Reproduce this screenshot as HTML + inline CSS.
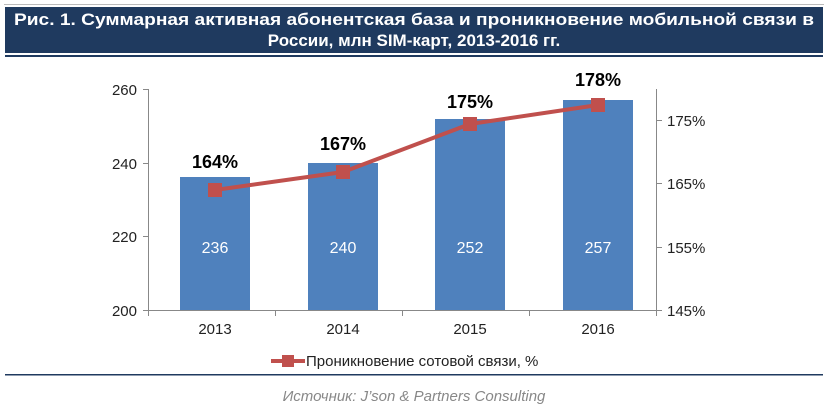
<!DOCTYPE html>
<html><head><meta charset="utf-8"><style>
body{margin:0;width:828px;height:414px;background:#fff;overflow:hidden;font-family:"Liberation Sans","DejaVu Sans",sans-serif}
</style></head><body>
<svg width="828" height="414" xmlns="http://www.w3.org/2000/svg" font-family="Liberation Sans, DejaVu Sans, sans-serif">
<rect x="4" y="4" width="820" height="1" fill="#bbb"/>
<rect x="5" y="7" width="818" height="46" fill="#1f3a5f"/>
<rect x="5" y="55" width="818" height="2" fill="#1f3a5f"/>
<text x="414" y="25" fill="#fff" font-size="17" font-weight="bold" text-anchor="middle" textLength="800" lengthAdjust="spacingAndGlyphs">Рис. 1. Суммарная активная абонентская база и проникновение мобильной связи в</text>
<text x="414" y="46" fill="#fff" font-size="17" font-weight="bold" text-anchor="middle">России, млн SIM-карт, 2013-2016 гг.</text>
<g stroke="#888" stroke-width="1">
<line x1="148.5" y1="89" x2="148.5" y2="310"/>
<line x1="143" y1="89.5" x2="148" y2="89.5"/><line x1="143" y1="163.5" x2="148" y2="163.5"/><line x1="143" y1="236.5" x2="148" y2="236.5"/>
<line x1="143" y1="310.5" x2="662" y2="310.5"/>
<line x1="656.5" y1="89" x2="656.5" y2="310"/>
<line x1="656" y1="120.5" x2="662" y2="120.5"/><line x1="656" y1="183.5" x2="662" y2="183.5"/><line x1="656" y1="247.5" x2="662" y2="247.5"/>
<line x1="275.5" y1="310" x2="275.5" y2="316"/><line x1="402.5" y1="310" x2="402.5" y2="316"/><line x1="529.5" y1="310" x2="529.5" y2="316"/><line x1="148.5" y1="310" x2="148.5" y2="316"/><line x1="656.5" y1="310" x2="656.5" y2="316"/>
</g>
<g font-size="15" fill="#222">
<text x="137" y="95" text-anchor="end">260</text><text x="137" y="169" text-anchor="end">240</text><text x="137" y="242" text-anchor="end">220</text><text x="137" y="316" text-anchor="end">200</text>
<text x="667" y="126">175%</text><text x="667" y="189">165%</text><text x="667" y="253">155%</text><text x="667" y="316">145%</text>
<text x="215" y="334" text-anchor="middle">2013</text><text x="343" y="334" text-anchor="middle">2014</text><text x="470" y="334" text-anchor="middle">2015</text><text x="598" y="334" text-anchor="middle">2016</text>
</g>
<g fill="#4f81bd">
<rect x="180" y="177" width="70" height="133"/><rect x="308" y="163" width="70" height="147"/><rect x="435" y="119" width="70" height="191"/><rect x="563" y="100" width="70" height="210"/>
</g>
<g font-size="16" fill="#fff" text-anchor="middle">
<text x="215" y="253">236</text><text x="343" y="253">240</text><text x="470" y="253">252</text><text x="598" y="253">257</text>
</g>
<polyline points="215,190 343,172 470,124 598,105" fill="none" stroke="#c0504d" stroke-width="4"/>
<g fill="#c0504d">
<rect x="208" y="183" width="14" height="14"/><rect x="336" y="165" width="14" height="14"/><rect x="463" y="117" width="14" height="14"/><rect x="591" y="98" width="14" height="14"/>
</g>
<g font-size="18" font-weight="bold" fill="#000" text-anchor="middle">
<text x="215" y="168">164%</text><text x="343" y="150">167%</text><text x="470" y="108">175%</text><text x="598" y="86">178%</text>
</g>
<line x1="271" y1="361" x2="305" y2="361" stroke="#c0504d" stroke-width="4"/>
<rect x="282" y="355" width="12" height="12" fill="#c0504d"/>
<text x="306" y="366" font-size="15" fill="#222">Проникновение сотовой связи,  %</text>
<rect x="5" y="374" width="818" height="1.5" fill="#1f3a5f"/>
<text x="414" y="401" font-size="15" font-style="italic" fill="#888" text-anchor="middle">Источник: J’son &amp; Partners Consulting</text>
</svg>
</body></html>
